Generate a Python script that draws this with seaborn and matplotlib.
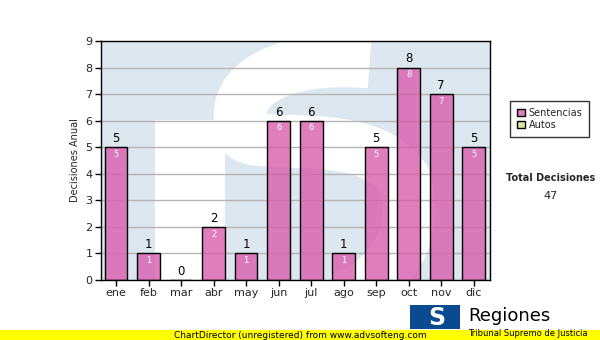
import matplotlib
matplotlib.use('Agg')
import matplotlib.pyplot as plt
import matplotlib.patches as mpatches
from matplotlib.path import Path
import seaborn as sns
import pandas as pd

# monthly decisions data
months = ['ene', 'feb', 'mar', 'abr', 'may', 'jun', 'jul', 'ago', 'sep', 'oct', 'nov', 'dic']
sentencias = [5, 1, 0, 2, 1, 6, 6, 1, 5, 8, 7, 5]
total = sum(sentencias)

df = pd.DataFrame({'mes': months, 'valor': sentencias})

sns.set_style('white')
plt.rcParams['font.family'] = ['DejaVu Sans']

fig = plt.figure(figsize=(6, 3.4), dpi=100)
ax = fig.add_axes([0.168, 0.1765, 0.648, 0.703])
ax.set_facecolor('#dde7f0')

ax.yaxis.grid(True, color='#b4b4b4', linewidth=1, zorder=1)
ax.set_axisbelow(True)

sns.barplot(data=df, x='mes', y='valor', color='#d95cae', saturation=1,
            edgecolor='black', linewidth=1, width=0.7, ax=ax, zorder=2)
# semi-transparent fill, solid black outline
for p in ax.containers[0]:
    p.set_facecolor((0.85, 0.36, 0.68, 0.8))
    p.set_edgecolor((0, 0, 0, 1))

# watermark "S" shape behind the bars
def px(x, y):
    return ((x - 101) / 389, (280 - y) / 239)

ax.add_patch(mpatches.Rectangle(px(155, 280), 70 / 389, 160 / 239, transform=ax.transAxes,
                                facecolor='white', edgecolor='none', zorder=0))
verts = [px(370, 62), px(270, 54), px(225, 92), px(245, 135),
         px(262, 150), px(370, 125), px(405, 180),
         px(420, 230), px(395, 280), px(340, 300)]
codes = [Path.MOVETO] + [Path.CURVE4] * 9
ax.add_patch(mpatches.PathPatch(Path(verts, codes), transform=ax.transAxes, facecolor='none',
                                edgecolor='white', linewidth=38, capstyle='butt', zorder=0))

for i, v in enumerate(sentencias):
    ax.text(i, v + 0.08, str(v), ha='center', va='bottom', fontsize=8.5, color='black', zorder=4)
    if v > 0:
        ax.text(i, v - 0.1, str(v), ha='center', va='top', fontsize=6, color='white', zorder=4)

ax.set_xlim(-0.47, 11.49)
ax.set_ylim(0, 9)
ax.set_yticks(range(10))
ax.set_xlabel('')
ax.set_ylabel('Decisiones Anual', fontsize=7, labelpad=4)
ax.tick_params(axis='both', labelsize=8, length=4, width=1, color='black', pad=2, direction='out')
ax.tick_params(axis='x', bottom=True)
ax.tick_params(axis='y', left=True)
for s in ax.spines.values():
    s.set_color('black')
    s.set_linewidth(1)

# legend
handles = [mpatches.Patch(facecolor='#e07cc0', edgecolor='black', label='Sentencias'),
           mpatches.Patch(facecolor='#d8e8a0', edgecolor='black', label='Autos')]
leg = fig.legend(handles=handles, loc='upper left', bbox_to_anchor=(510 / 600, 1 - 101 / 340),
                 fontsize=7, frameon=True, fancybox=False, handlelength=0.8, handleheight=0.8,
                 handletextpad=0.4, borderpad=0.7, labelspacing=0.2, borderaxespad=0)
leg.get_frame().set_edgecolor('black')
leg.get_frame().set_linewidth(1)

fig.text(551 / 600, 1 - 178 / 340, 'Total Decisiones', ha='center', va='center',
         fontsize=7, fontweight='bold')
fig.text(551 / 600, 1 - 196 / 340, str(total), ha='center', va='center', fontsize=8)

# footer band and logo
fig.patches.append(mpatches.Rectangle((0, 0), 1, 10 / 340, transform=fig.transFigure,
                                      facecolor='#ffff00', edgecolor='none', zorder=0))
fig.text(0.5, 5 / 340, 'ChartDirector (unregistered) from www.advsofteng.com', ha='center',
         va='center', fontsize=6.5, color='black')
fig.patches.append(mpatches.Rectangle((410 / 600, 1 - 329 / 340), 50 / 600, 24 / 340,
                                      transform=fig.transFigure, facecolor='#0a4a90',
                                      edgecolor='none', zorder=1))
fig.text(437 / 600, 1 - 318 / 340, 'S', ha='center', va='center', fontsize=17,
         fontweight='bold', color='white')
fig.text(468 / 600, 1 - 316 / 340, 'Regiones', ha='left', va='center', fontsize=13, color='black')
fig.text(468 / 600, 1 - 334 / 340, 'Tribunal Supremo de Justicia', ha='left', va='center',
         fontsize=6, color='black')

fig.savefig('out.png', dpi=100)
